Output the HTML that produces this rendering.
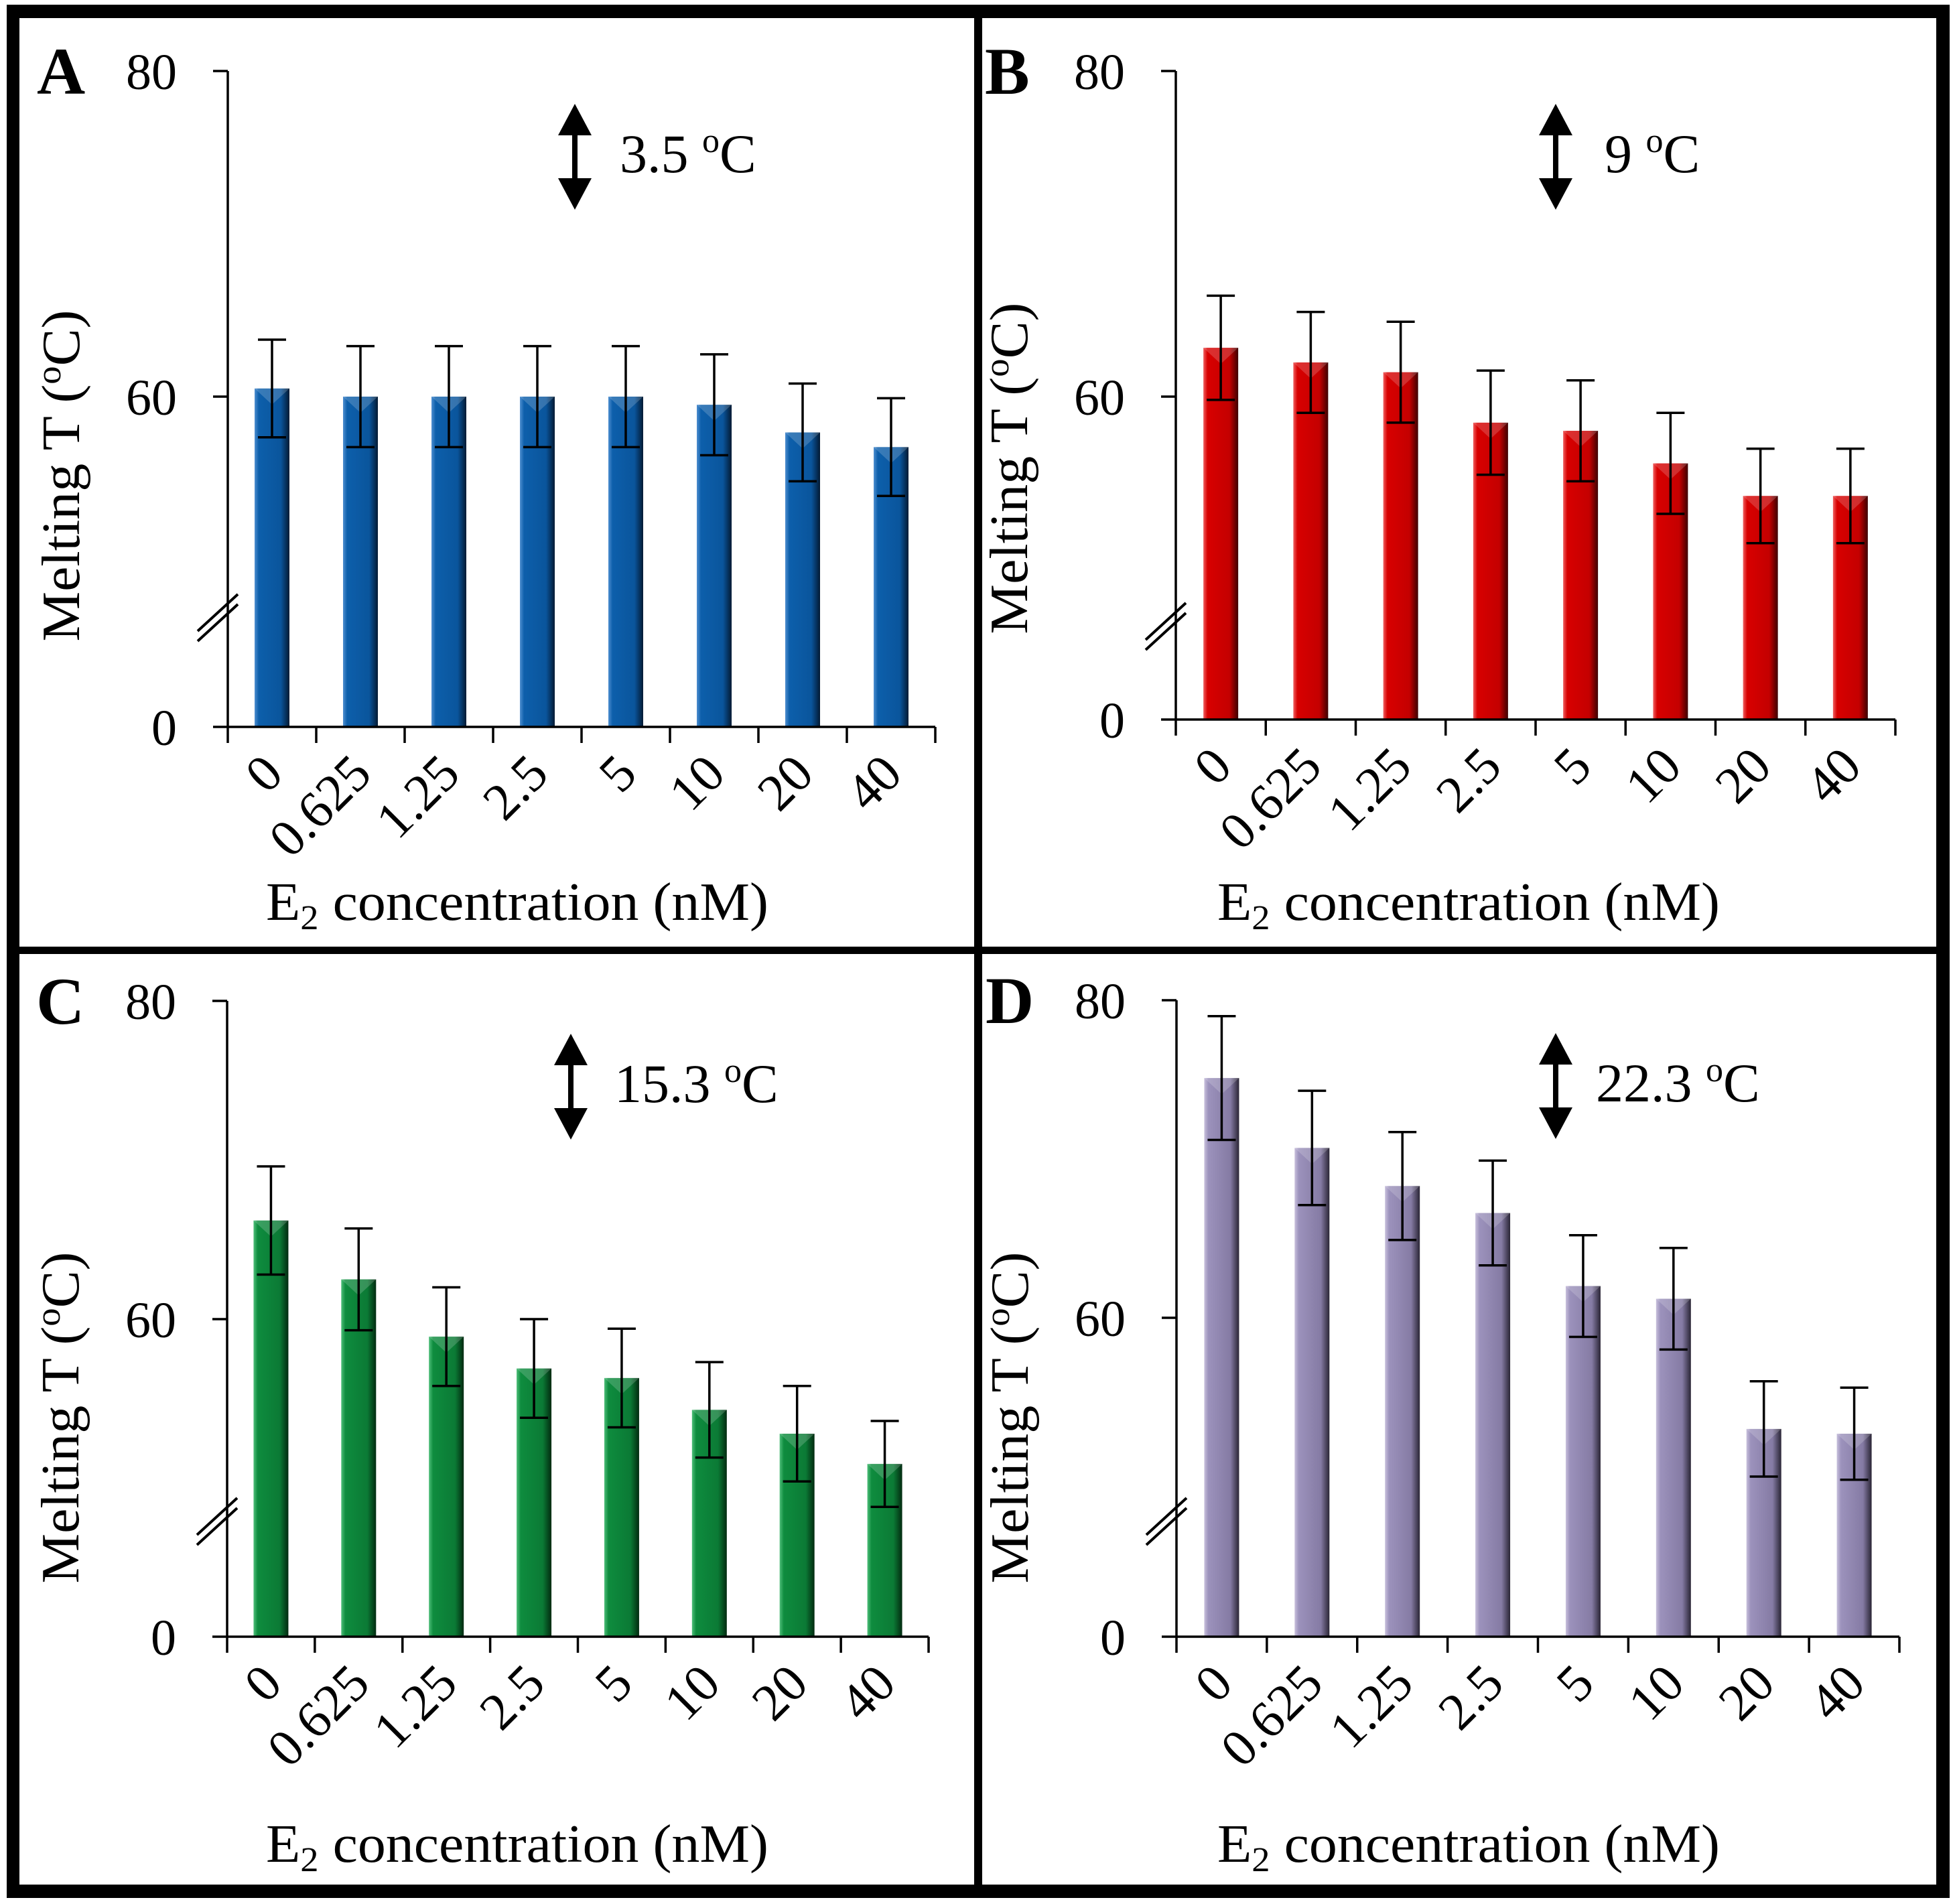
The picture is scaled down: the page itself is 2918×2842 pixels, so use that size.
<!DOCTYPE html>
<html><head><meta charset="utf-8"><style>
html,body{margin:0;padding:0;background:#fff;}
svg{display:block;font-family:"Liberation Serif",serif;}
</style></head><body>
<svg id="fig" width="2918" height="2842" viewBox="0 0 2918 2842" xmlns="http://www.w3.org/2000/svg">
<defs>
<linearGradient id="gA" x1="0" x2="1"><stop offset="0" stop-color="#4f8fd0"/><stop offset="0.12" stop-color="#0d5fab"/><stop offset="0.75" stop-color="#0a559c"/><stop offset="1" stop-color="#031a33"/></linearGradient>
<linearGradient id="gB" x1="0" x2="1"><stop offset="0" stop-color="#f06060"/><stop offset="0.12" stop-color="#d80000"/><stop offset="0.75" stop-color="#c40000"/><stop offset="1" stop-color="#3d0000"/></linearGradient>
<linearGradient id="gC" x1="0" x2="1"><stop offset="0" stop-color="#4fbf7a"/><stop offset="0.12" stop-color="#0e8c3e"/><stop offset="0.75" stop-color="#0b7a35"/><stop offset="1" stop-color="#022a10"/></linearGradient>
<linearGradient id="gD" x1="0" x2="1"><stop offset="0" stop-color="#c8c0dc"/><stop offset="0.12" stop-color="#9c92bc"/><stop offset="0.75" stop-color="#857ba4"/><stop offset="1" stop-color="#2a2535"/></linearGradient>
</defs>
<rect x="10" y="7" width="2900" height="20" fill="#000"/>
<rect x="10" y="2813" width="2900" height="20" fill="#000"/>
<rect x="10" y="7" width="19" height="2826" fill="#000"/>
<rect x="2890" y="7" width="20" height="2826" fill="#000"/>
<rect x="1454" y="7" width="12" height="2826" fill="#000"/>
<rect x="10" y="1413" width="2900" height="11" fill="#000"/>
</svg>
<script>
const categories = ["0","0.625","1.25","2.5","5","10","20","40"];
const valuesA = [60.5,60,60,60,60,59.5,57.8,56.9];
const errorsA = [3.0,3.1,3.1,3.1,3.1,3.1,3.0,3.0];
const valuesB = [63.0,62.1,61.5,58.4,57.9,55.9,53.9,53.9];
const errorsB = [3.2,3.1,3.1,3.2,3.1,3.1,2.9,2.9];
const valuesC = [66.2,62.5,58.9,56.9,56.3,54.3,52.8,50.9];
const errorsC = [3.4,3.2,3.1,3.1,3.1,3.0,3.0,2.7];
const valuesD = [75.1,70.7,68.3,66.6,62.0,61.2,53.0,52.7];
const errorsD = [3.9,3.6,3.4,3.3,3.2,3.2,3.0,2.9];
const tickLabels = ["0","60","80"];
const deltaLabels = ["3.5","9","15.3","22.3"];

const NS = "http://www.w3.org/2000/svg";
const svg = document.getElementById('fig');
function mk(tag, attrs, parent, text){
  const e = document.createElementNS(NS, tag);
  for (const k in attrs) e.setAttribute(k, attrs[k]);
  if (text !== undefined) e.textContent = text;
  (parent||svg).appendChild(e);
  return e;
}
const panels = [
  {id:'a',letter:'A',vals:valuesA,errs:errorsA,grad:'gA',ax:340,y80:106,y60:592,y0:1085,xEnd:1396,brk:912,titleDy:288,cx:772,arrowX:858,textX:925,delta:deltaLabels[0],ytc:-375},
  {id:'b',letter:'B',vals:valuesB,errs:errorsB,grad:'gB',ax:1755,y80:106,y60:592,y0:1074,xEnd:2829,brk:925,titleDy:299,cx:2192,arrowX:2322,textX:2395,delta:deltaLabels[1],ytc:-375},
  {id:'c',letter:'C',vals:valuesC,errs:errorsC,grad:'gC',ax:339,y80:1494,y60:1969,y0:2443,xEnd:1386,brk:2261,titleDy:336,cx:772,arrowX:852,textX:917,delta:deltaLabels[2],ytc:-327},
  {id:'d',letter:'D',vals:valuesD,errs:errorsD,grad:'gD',ax:1756,y80:1493,y60:1967,y0:2443,xEnd:2835,brk:2261,titleDy:336,cx:2192,arrowX:2322,textX:2382,delta:deltaLabels[3],ytc:-327}
];
panels.forEach(p=>{
  const g = mk('g',{});
  
  
  function yScale(v){ return p.y60 - (v-60)*(p.y60-p.y80)/20; }
  const n = categories.length;
  const step = (p.xEnd - p.ax)/n;
  function xScale(i){ return p.ax + step*(i+0.5); }
  const L = mk('text',{x:p.ax-285,y:p.y80+34,'font-size':100,'font-weight':'bold'},g,p.letter);
  
  
  p.vals.forEach((v,i)=>{
    const x = xScale(i), yt = yScale(v), bw = 52;
    const r = mk('rect',{x:x-bw/2,y:yt,width:bw,height:p.y0-yt,fill:'url(#'+p.grad+')'},g);
    
    
    const t = mk('path',{d:`M${x-bw/2} ${yt} L${x+bw/2} ${yt} L${x} ${yt+24} Z`,fill:'#fff','fill-opacity':0.18},g);
    
    
    const e = p.errs[i];
    const yh = yScale(v+e), yl = yScale(v-e);
    const eb = mk('path',{d:`M${x} ${yh} L${x} ${yl} M${x-21} ${yh} L${x+21} ${yh} M${x-21} ${yl} L${x+21} ${yl}`,stroke:'#000','stroke-width':3.5,fill:'none'},g);
    
    
    const lx = x+20, ly = p.y0+74;
    const cl = mk('text',{x:lx,y:ly,'font-size':78,'text-anchor':'end',transform:`rotate(-45 ${lx} ${ly})`},g,categories[i]);
    
    
  });
  const ya = mk('path',{d:`M${p.ax} ${p.y80} L${p.ax} ${p.y0} M${p.ax-22} ${p.y80} L${p.ax} ${p.y80} M${p.ax-22} ${p.y60} L${p.ax} ${p.y60} M${p.ax-22} ${p.y0} L${p.ax} ${p.y0}`,stroke:'#000','stroke-width':3.5,fill:'none'},g);
  
  
  let xd = `M${p.ax} ${p.y0} L${p.xEnd} ${p.y0}`;
  for (let i=0;i<=n;i++){ const tx=p.ax+step*i; xd += ` M${tx} ${p.y0} L${tx} ${p.y0+24}`; }
  const xa = mk('path',{d:xd,stroke:'#000','stroke-width':3.5,fill:'none'},g);
  
  
  const bk = mk('path',{d:`M${p.ax-45} ${p.brk+30} L${p.ax+15} ${p.brk-25} M${p.ax-45} ${p.brk+45} L${p.ax+15} ${p.brk-10}`,stroke:'#000','stroke-width':4,fill:'none'},g);
  
  
  [[tickLabels[0],p.y0],[tickLabels[1],p.y60],[tickLabels[2],p.y80]].forEach((tl,k)=>{
    const t = mk('text',{x:p.ax-76,y:tl[1]+27,'font-size':76,'text-anchor':'end'},g,tl[0]);
    
    
  });
  const yty = p.y0 + p.ytc;
  const ytx = p.ax - 222;
  const yt = mk('text',{x:ytx,y:yty,'font-size':80,'text-anchor':'middle',textLength:495,lengthAdjust:'spacingAndGlyphs',transform:`rotate(-90 ${ytx} ${yty})`},g,'Melting T (');
  mk('tspan',{'font-size':52,dy:-28},yt,'o');
  mk('tspan',{dy:28},yt,'C)');
  
  
  const xt = mk('text',{x:p.cx,y:p.y0+p.titleDy,'font-size':80,'text-anchor':'middle',textLength:750,lengthAdjust:'spacingAndGlyphs'},g,'E');
  mk('tspan',{'font-size':52,dy:14},xt,'2');
  mk('tspan',{dy:-14},xt,' concentration (nM)');
  
  
  const top = p.y80+49, bot = p.y80+207, ax = p.arrowX;
  const ar = mk('path',{d:`M${ax} ${top} L${ax+25} ${top+47} L${ax+4} ${top+47} L${ax+4} ${bot-47} L${ax+25} ${bot-47} L${ax} ${bot} L${ax-25} ${bot-47} L${ax-4} ${bot-47} L${ax-4} ${top+47} L${ax-25} ${top+47} Z`,fill:'#000'},g);
  
  
  const dt = mk('text',{x:p.textX,y:p.y80+151,'font-size':82},g,p.delta+' ');
  mk('tspan',{'font-size':52,dy:-30},dt,'o');
  mk('tspan',{dy:30},dt,'C');
  
  
});
</script>
</body></html>
